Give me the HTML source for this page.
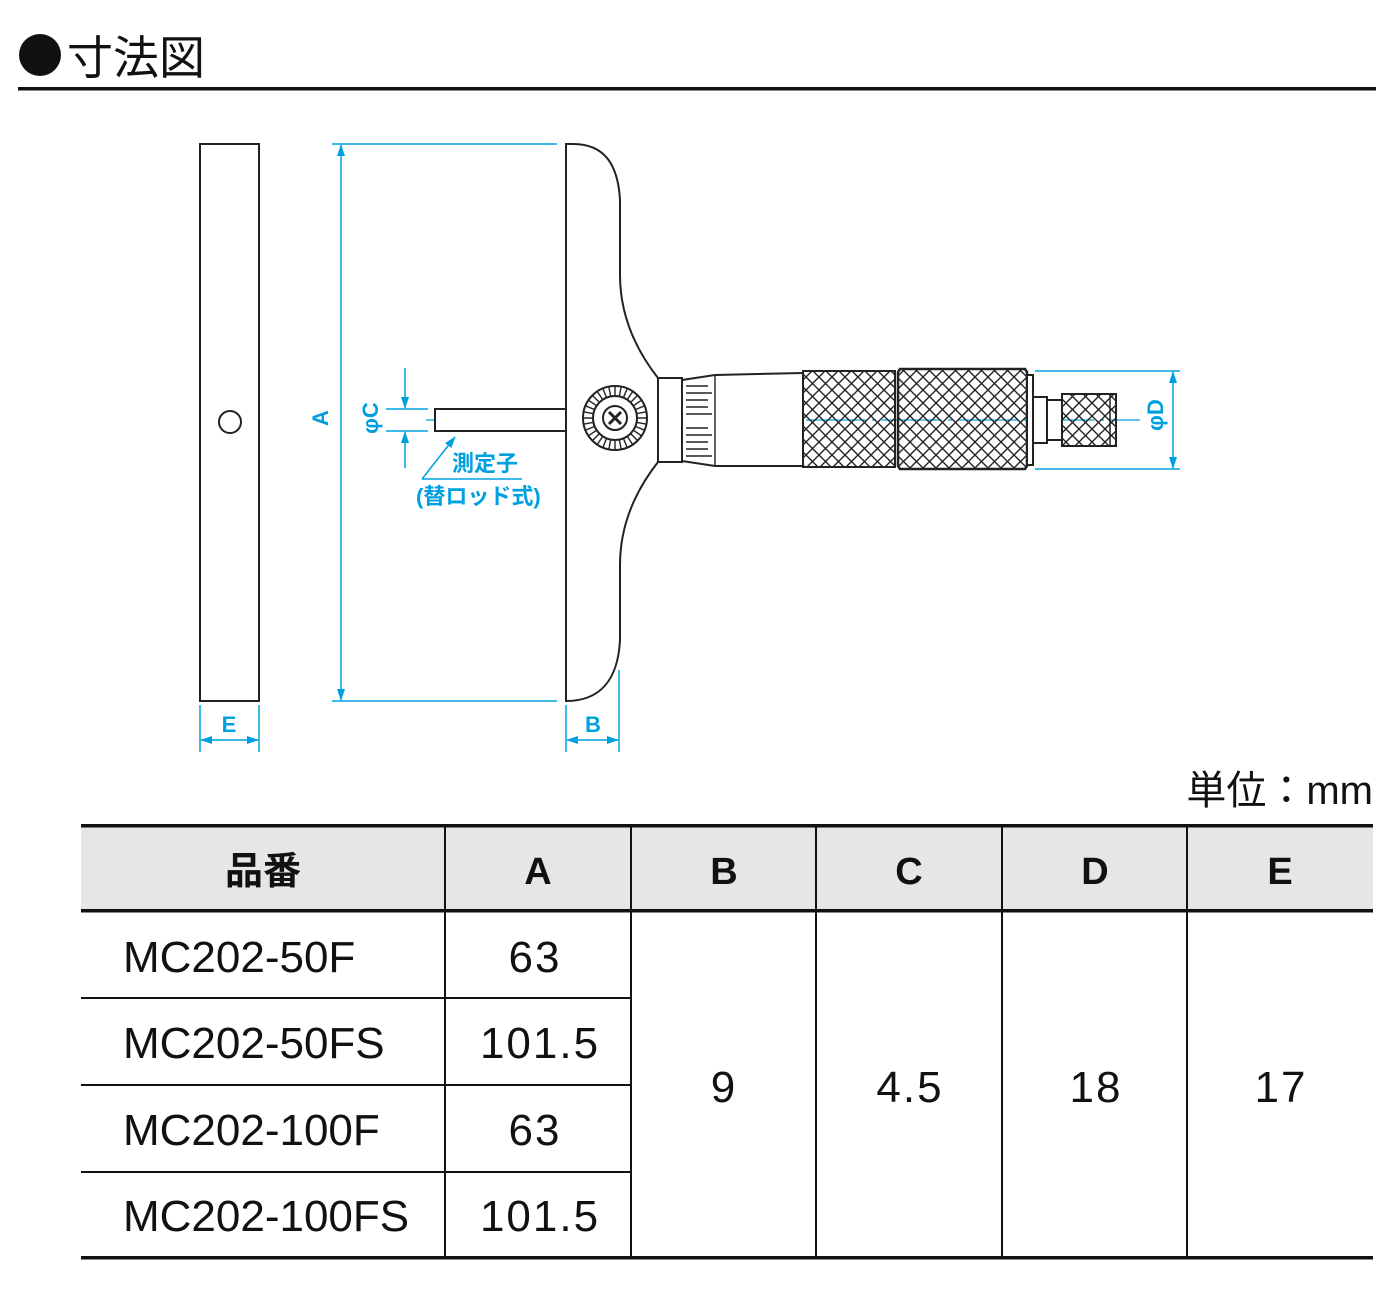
<!DOCTYPE html>
<html><head><meta charset="utf-8">
<style>
html,body{margin:0;padding:0;background:#fff;}
svg{display:block;}
.jp{font-family:"Liberation Sans","Noto Sans CJK JP",sans-serif;}
</style></head>
<body>
<svg width="1400" height="1300" viewBox="0 0 1400 1300" xmlns="http://www.w3.org/2000/svg">
<defs>
<pattern id="kn" width="13" height="13" patternUnits="userSpaceOnUse">
<path d="M0 0 L13 13 M13 0 L0 13" stroke="#222" stroke-width="1.4"/>
</pattern>
<marker id="ar" markerWidth="12" markerHeight="8" refX="11" refY="4" orient="auto" markerUnits="userSpaceOnUse">
<path d="M0 0 L12 4 L0 8 Z" fill="#00a0e0"/>
</marker>
</defs>
<!-- Title -->
<circle cx="40" cy="55" r="21" fill="#111"/>
<text x="67" y="74" class="jp" font-size="46" fill="#111">寸法図</text>
<rect x="18" y="87" width="1358" height="3.5" fill="#111"/>

<g stroke="#00a0e0" stroke-width="1.5" fill="none">
<line x1="200" y1="705" x2="200" y2="752"/><line x1="259" y1="705" x2="259" y2="752"/>
<line x1="230" y1="740" x2="201" y2="740" marker-end="url(#ar)"/>
<line x1="230" y1="740" x2="258" y2="740" marker-end="url(#ar)"/>
<line x1="332" y1="144" x2="557" y2="144"/><line x1="332" y1="701" x2="557" y2="701"/>
<line x1="341" y1="420" x2="341" y2="145" marker-end="url(#ar)"/>
<line x1="341" y1="420" x2="341" y2="700" marker-end="url(#ar)"/>
<line x1="566" y1="705" x2="566" y2="752"/><line x1="619" y1="670" x2="619" y2="752"/>
<line x1="592" y1="740" x2="567" y2="740" marker-end="url(#ar)"/>
<line x1="592" y1="740" x2="618" y2="740" marker-end="url(#ar)"/>
<line x1="386" y1="409" x2="428" y2="409"/><line x1="386" y1="431" x2="428" y2="431"/>
<line x1="405" y1="368" x2="405" y2="408" marker-end="url(#ar)"/>
<line x1="405" y1="468" x2="405" y2="432" marker-end="url(#ar)"/>
<line x1="1035" y1="371" x2="1180" y2="371"/><line x1="1035" y1="469" x2="1180" y2="469"/>
<line x1="1173" y1="420" x2="1173" y2="372" marker-end="url(#ar)"/>
<line x1="1173" y1="420" x2="1173" y2="468" marker-end="url(#ar)"/>
<line x1="422" y1="479" x2="522" y2="479"/>
<line x1="422" y1="479" x2="455" y2="437" marker-end="url(#ar)"/>
<line x1="426" y1="420" x2="1140" y2="420" stroke-width="1.2" stroke-dasharray="60 6 4 6"/>
</g>
<g class="jp" fill="#00a0e0" font-size="22" font-weight="bold">
<text x="229" y="732" text-anchor="middle">E</text>
<text x="593" y="732" text-anchor="middle">B</text>
<text transform="translate(328,418) rotate(-90)" text-anchor="middle">A</text>
<text transform="translate(378,418) rotate(-90)" text-anchor="middle">φC</text>
<text transform="translate(1163,415) rotate(-90)" text-anchor="middle">φD</text>
<text x="452" y="471">測定子</text>
<text x="416" y="504">(替ロッド式)</text>
</g>

<g stroke="#222" stroke-width="2" fill="#fff">
<rect x="200" y="144" width="59" height="557"/>
<circle cx="230" cy="422" r="11"/>
<path d="M566 144 L573 144 C605 144 618 165 620 200 L620 275 C620 320 640 355 658 378 L658 462 C640 485 620 520 620 565 L620 640 C618 680 600 701 566 701 Z"/>
<rect x="435" y="409" width="131" height="22"/>
<rect x="658" y="378" width="24" height="84"/>
<path d="M682 380 L715 375 L803 373 L803 466 L715 466 L682 461 Z"/>
<rect x="803" y="371" width="92" height="96" fill="url(#kn)"/>
<path d="M900 369 L1025 369 L1027 372 L1027 466 L1025 469 L900 469 L898 466 L898 372 Z" fill="url(#kn)" stroke-width="2.5"/>
<rect x="1027" y="375" width="6" height="90"/>
<rect x="1033" y="397" width="14" height="46"/>
<rect x="1047" y="400" width="15" height="40"/>
<rect x="1062" y="394" width="54" height="52" fill="url(#kn)"/>
<line x1="1110" y1="395" x2="1110" y2="445" stroke-width="1.5"/>
<circle cx="615" cy="418" r="32"/>
<circle cx="615" cy="418" r="22"/>
<circle cx="615" cy="418" r="12"/>
</g>
<g stroke="#222" stroke-width="1.4">
<g transform="translate(615,418)">
<path d="M0 -22 L0 -32 M0 22 L0 32 M-22 0 L-32 0 M22 0 L32 0 M15.6 15.6 L22.6 22.6 M-15.6 -15.6 L-22.6 -22.6 M15.6 -15.6 L22.6 -22.6 M-15.6 15.6 L-22.6 22.6 M8.4 -20.3 L12.2 -29.6 M-8.4 20.3 L-12.2 29.6 M20.3 8.4 L29.6 12.2 M-20.3 -8.4 L-29.6 -12.2 M-8.4 -20.3 L-12.2 -29.6 M8.4 20.3 L12.2 29.6 M20.3 -8.4 L29.6 -12.2 M-20.3 8.4 L-29.6 12.2 M4.3 -21.6 L6.2 -31.4 M-4.3 21.6 L-6.2 31.4 M21.6 4.3 L31.4 6.2 M-21.6 -4.3 L-31.4 -6.2 M-4.3 -21.6 L-6.2 -31.4 M4.3 21.6 L6.2 31.4 M21.6 -4.3 L31.4 -6.2 M-21.6 4.3 L-31.4 6.2 M12.2 -18.3 L17.8 -26.6 M-12.2 18.3 L-17.8 26.6 M18.3 12.2 L26.6 17.8 M-18.3 -12.2 L-26.6 -17.8 M-12.2 -18.3 L-17.8 -26.6 M12.2 18.3 L17.8 26.6 M18.3 -12.2 L26.6 -17.8 M-18.3 12.2 L-26.6 17.8"/>
<path d="M-6 -6 L6 6 M6 -6 L-6 6" stroke-width="3"/>
</g>
<path d="M686 386 L708 386 M686 393 L712 393 M686 400 L708 400 M686 407 L708 407 M686 414 L712 414 M686 428 L708 428 M686 435 L712 435 M686 442 L708 442 M686 449 L708 449 M686 456 L712 456"/>
<line x1="715" y1="376" x2="715" y2="465"/>
</g>

<text x="1373" y="804" text-anchor="end" class="jp" font-size="40" fill="#111">単位：mm</text>

<rect x="81" y="826" width="1292" height="85" fill="#e6e6e6"/>
<g fill="#111">
<rect x="81" y="824" width="1292" height="3.5"/>
<rect x="81" y="909" width="1292" height="3.5"/>
<rect x="81" y="1256" width="1292" height="3.5"/>
<rect x="81" y="997" width="550" height="2"/>
<rect x="81" y="1084" width="550" height="2"/>
<rect x="81" y="1171" width="550" height="2"/>
<rect x="444" y="826" width="2" height="432"/>
<rect x="630" y="826" width="2" height="432"/>
<rect x="815" y="826" width="2" height="432"/>
<rect x="1001" y="826" width="2" height="432"/>
<rect x="1186" y="826" width="2" height="432"/>
</g>
<g class="jp" fill="#111" font-size="38" font-weight="bold" text-anchor="middle">
<text x="263" y="884">品番</text>
<text x="538" y="884">A</text>
<text x="724" y="884">B</text>
<text x="909" y="884">C</text>
<text x="1095" y="884">D</text>
<text x="1280" y="884">E</text>
</g>
<g class="jp" fill="#111" font-size="44">
<text x="123" y="972">MC202-50F</text>
<text x="123" y="1058">MC202-50FS</text>
<text x="123" y="1145">MC202-100F</text>
<text x="123" y="1231">MC202-100FS</text>
<g text-anchor="middle" letter-spacing="2">
<text x="535" y="972">63</text>
<text x="540" y="1058">101.5</text>
<text x="535" y="1145">63</text>
<text x="540" y="1231">101.5</text>
<text x="724" y="1102">9</text>
<text x="910" y="1102">4.5</text>
<text x="1096" y="1102">18</text>
<text x="1281" y="1102">17</text>
</g>
</g>
</svg>
</body></html>
